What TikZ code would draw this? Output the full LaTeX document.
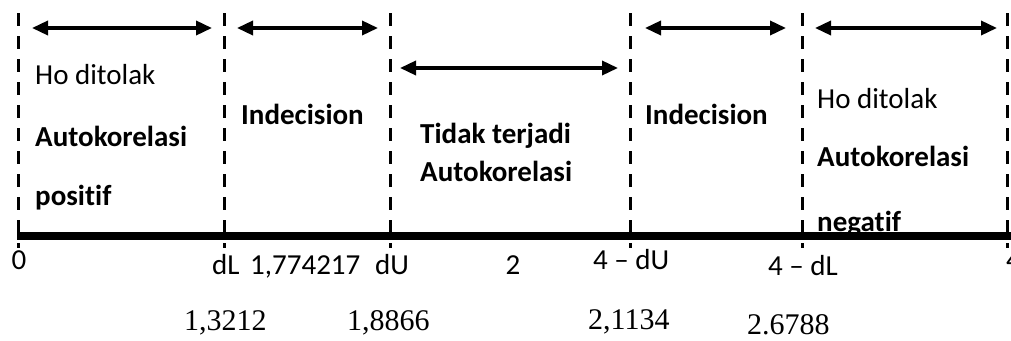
\documentclass[tikz,border=0pt]{standalone}
\usepackage{fontspec}
\setmainfont[Ligatures=NoCommon]{Carlito}
\newfontfamily\numserif{Liberation Serif}
\usetikzlibrary{arrows.meta}
\tikzset{
  bound/.style={line width=3pt, dash pattern=on 13pt off 10pt},
  axis/.style={line width=8pt},
  span/.style={line width=3.5pt, {Triangle[length=16pt,width=14pt]}-{Triangle[length=16pt,width=14pt]}},
  lbl/.style={anchor=base west, inner sep=0pt, font=\fontsize{29}{34}\selectfont},
  blbl/.style={lbl, font=\fontsize{29}{34}\selectfont\bfseries},
  tick/.style={anchor=base, inner sep=0pt, font=\fontsize{29}{34}\selectfont},
  val/.style={anchor=base west, inner sep=0pt, font=\fontsize{30}{34}\numserif},
}
\begin{document}
\begin{tikzpicture}[x=1pt,y=-1pt]
\useasboundingbox (0,0) rectangle (1011,340);
% region boundaries
\foreach \n/\x in {b0/18, b1/224, b2/390, b3/630, b4/802, b5/1007}{
  \coordinate (\n t) at (\x,13);
  \coordinate (\n b) at (\x,248);
  \draw[bound] (\n t) -- (\n b);
}
% range arrows
\coordinate (a1l) at (32,28);  \coordinate (a1r) at (212,28);
\coordinate (a2l) at (237,28); \coordinate (a2r) at (378,28);
\coordinate (a3l) at (400,68); \coordinate (a3r) at (618,68);
\coordinate (a4l) at (645,28); \coordinate (a4r) at (786,28);
\coordinate (a5l) at (815,28); \coordinate (a5r) at (997,28);
\draw[span] (a1l) -- (a1r);
\draw[span] (a2l) -- (a2r);
\draw[span] (a3l) -- (a3r);
\draw[span] (a4l) -- (a4r);
\draw[span] (a5l) -- (a5r);
% region texts
\node[lbl]  (t1a) at (35,84)  {Ho ditolak};
\node[blbl] (t1b) at (35,146) {Autokorelasi};
\node[blbl] (t1c) at (35,205) {positif};
\node[blbl] (t2)  at (241,124) {Indecision};
\node[blbl] (t3a) at (420,143) {Tidak terjadi};
\node[blbl] (t3b) at (420,181) {Autokorelasi};
\node[blbl] (t4)  at (645,124) {Indecision};
\node[lbl]  (t5a) at (817,108) {Ho ditolak};
\node[blbl] (t5b) at (817,166) {Autokorelasi};
\node[blbl] (t5c) at (817,231) {negatif};
% number line, drawn over the last text line
\coordinate (axl) at (17,236);
\coordinate (axr) at (1015,236);
\draw[axis] (axl) -- (axr);
% axis labels
\node[tick] (k0) at (19,269) {0};
\node[lbl]  (kdl) at (212,274) {dL};
\node[lbl]  (kval) at (250,274) {1,774217};
\node[lbl]  (kdu) at (375,274) {dU};
\node[tick] (k2) at (513,274) {2};
\node[lbl]  (k4du) at (593,269) {4 – dU};
\node[lbl]  (k4dl) at (768,275) {4 – dL};
\node[lbl]  (k4) at (1006,269) {4};
% critical values
\node[val] (v1) at (184,330) {1,3212};
\node[val] (v2) at (347,330) {1,8866};
\node[val] (v3) at (588,329) {2,1134};
\node[val] (v4) at (747,334) {2.6788};
\end{tikzpicture}
\end{document}
